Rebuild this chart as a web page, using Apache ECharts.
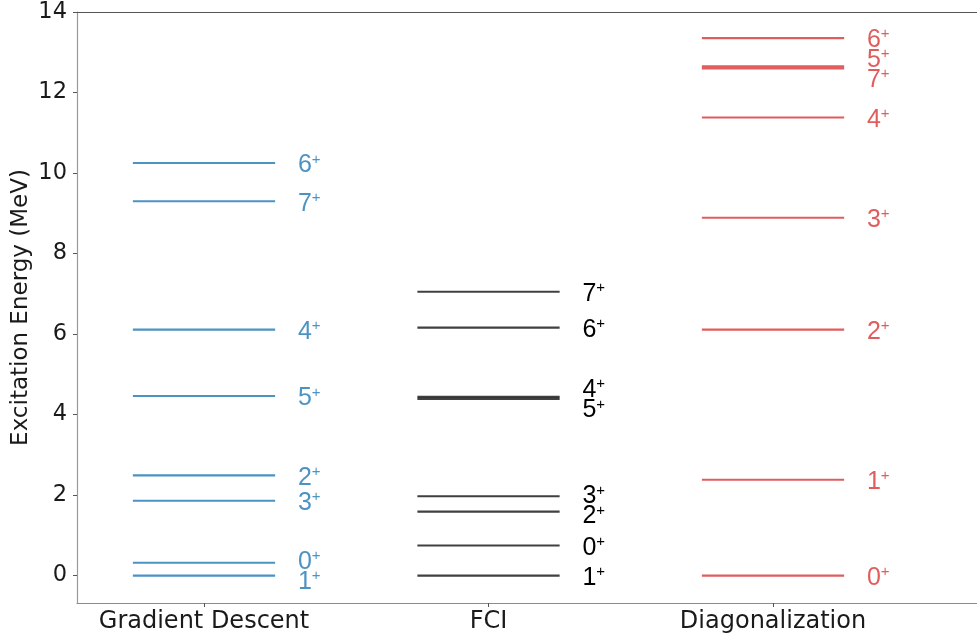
<!DOCTYPE html>
<html>
<head>
<meta charset="utf-8">
<script src="https://cdn.jsdelivr.net/npm/echarts@6/dist/echarts.min.js"></script>
<style>
html,body{margin:0;padding:0;background:#fff;}
#chart{width:977px;height:635px;}
</style>
</head>
<body>
<div id="chart"></div>
<script>
// ---- data ----
const categories = ['Gradient Descent', 'FCI', 'Diagonalization'];
const gdStates = ['6', '7', '4', '5', '2', '3', '0', '1'];
const gdEnergies = [10.25, 9.30, 6.11, 4.46, 2.49, 1.86, 0.32, 0.00];
const fciStates = ['7', '6', '4', '5', '3', '2', '0', '1'];
const fciEnergies = [7.05, 6.16, 4.44, 4.39, 1.97, 1.59, 0.75, 0.00];
const diagStates = ['6', '5', '7', '4', '3', '2', '1', '0'];
const diagEnergies = [13.35, 12.65, 12.60, 11.38, 8.89, 6.11, 2.38, 0.00];
const yTicks = [0, 2, 4, 6, 8, 10, 12, 14];
const catTicks = [0, 1, 2];
const yAxisTitle = 'Excitation Energy (MeV)';

// ---- label de-overlap (spread clustered labels symmetrically) ----
function spreadLabels(values, gap) {
  const items = values.map((v, i) => ({ v, i })).sort((a, b) => a.v - b.v);
  let clusters = items.map(it => ({ members: [it] }));
  const center = c => c.members.reduce((s, m) => s + m.v, 0) / c.members.length;
  const lo = c => center(c) - (c.members.length - 1) / 2 * gap;
  const hi = c => center(c) + (c.members.length - 1) / 2 * gap;
  let merged = true;
  while (merged) {
    merged = false;
    for (let k = 0; k < clusters.length - 1; k++) {
      if (hi(clusters[k]) + gap > lo(clusters[k + 1]) + 1e-9) {
        clusters[k] = { members: clusters[k].members.concat(clusters[k + 1].members) };
        clusters.splice(k + 1, 1);
        merged = true;
        break;
      }
    }
  }
  const out = new Array(values.length);
  clusters.forEach(c => {
    const start = lo(c);
    c.members.forEach((m, j) => { out[m.i] = start + j * gap; });
  });
  return out;
}

const groups = [
  { states: gdStates, energies: gdEnergies, line: 'rgba(31,119,180,0.8)', text: 'rgba(31,119,180,0.8)' },
  { states: fciStates, energies: fciEnergies, line: 'rgba(0,0,0,0.75)', text: '#000000' },
  { states: diagStates, energies: diagEnergies, line: 'rgba(214,39,40,0.75)', text: 'rgba(214,39,40,0.75)' }
];

const HALF = 0.25, LABEL_DX = 0.33, GAP = 0.5, LABEL_SHIFT_PX = 2;

const series = groups.map((g, gi) => {
  const labelY = spreadLabels(g.energies, GAP);
  const data = g.energies.map((e, i) => [gi, e, labelY[i], i]);
  return {
    type: 'custom',
    clip: false,
    silent: true,
    data: data,
    renderItem: function (params, api) {
      const x = api.value(0), e = api.value(1), ly = api.value(2), idx = api.value(3);
      const p1 = api.coord([x - HALF, e]);
      const p2 = api.coord([x + HALF, e]);
      const pl = api.coord([x + LABEL_DX, ly]);
      return {
        type: 'group',
        children: [
          {
            type: 'line',
            shape: { x1: p1[0], y1: p1[1], x2: p2[0], y2: p2[1] },
            style: { stroke: g.line, lineWidth: 2.1 }
          },
          {
            type: 'text',
            x: pl[0], y: pl[1] + LABEL_SHIFT_PX,
            style: {
              text: '{n|' + g.states[idx] + '}{p|+}',
              align: 'left',
              verticalAlign: 'middle',
              rich: {
                n: { fontFamily: 'Liberation Sans', fontSize: 25, fill: g.text, color: g.text, verticalAlign: 'bottom', lineHeight: 26 },
                p: { fontFamily: 'Liberation Sans', fontSize: 15, fill: g.text, color: g.text, verticalAlign: 'top', lineHeight: 18 }
              }
            }
          }
        ]
      };
    }
  };
});

const chart = echarts.init(document.getElementById('chart'), null, { renderer: 'canvas' });
const xMin = -0.4464, xMax = 2.717;
chart.setOption({
  animation: false,
  backgroundColor: '#ffffff',
  grid: { left: 77, top: 12, right: 0, bottom: 32, containLabel: false, outerBoundsMode: 'none' },
  xAxis: [
    {
      type: 'value', min: xMin, max: xMax, position: 'bottom',
      axisLine: { show: true, onZero: false, lineStyle: { color: '#8c8c8c', width: 1.2 } },
      axisTick: { show: true, customValues: catTicks, length: 4, lineStyle: { color: '#555' } },
      axisLabel: {
        customValues: catTicks, margin: 7,
        formatter: v => categories[Math.round(v)] || '',
        fontFamily: 'DejaVu Sans', fontSize: 24, color: '#1a1a1a'
      },
      splitLine: { show: false }
    },
    {
      type: 'value', min: xMin, max: xMax, position: 'top',
      axisLine: { show: true, onZero: false, lineStyle: { color: '#555', width: 1.2 } },
      axisTick: { show: false }, axisLabel: { show: false }, splitLine: { show: false }
    }
  ],
  yAxis: {
    type: 'value', min: -0.68, max: 14,
    name: yAxisTitle, nameLocation: 'middle', nameGap: 44, nameRotate: 90, nameMoveOverlap: false,
    nameTextStyle: { fontFamily: 'DejaVu Sans', fontSize: 23, color: '#1a1a1a' },
    axisLine: { show: true, onZero: false, lineStyle: { color: '#9a9a9a', width: 1.2 } },
    axisTick: { show: true, customValues: yTicks, length: 4, lineStyle: { color: '#555' } },
    axisLabel: { customValues: yTicks, margin: 10, fontFamily: 'DejaVu Sans', fontSize: 22.5, color: '#1a1a1a' },
    splitLine: { show: false }
  },
  series: series
});
</script>
</body>
</html>
